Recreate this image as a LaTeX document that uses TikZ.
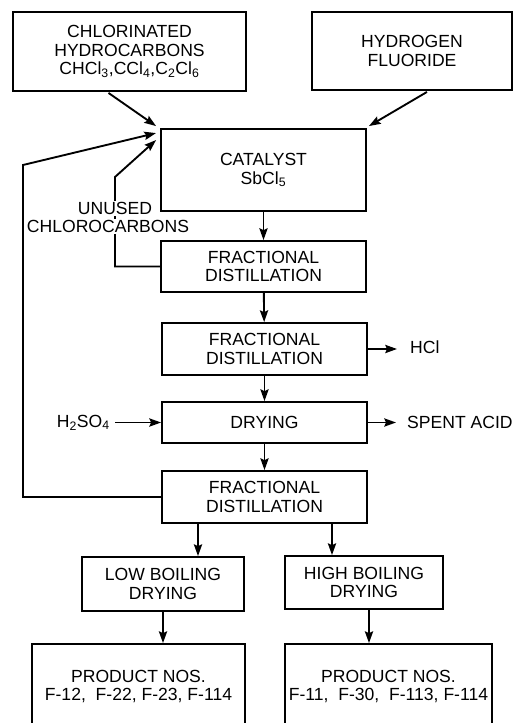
\documentclass[tikz,border=0pt]{standalone}
\usepackage{fontspec}
\setmainfont{Liberation Sans}
\usepackage{tikz}
\usetikzlibrary{arrows.meta, positioning, calc}

\begin{document}
\begin{tikzpicture}[
    x=0.03cm, y=-0.03cm,
    >={Stealth[length=10pt, width=7pt, inset=1.5pt]},
    box/.style={rectangle, draw=black, line width=1.6pt, minimum width=#1, align=center, inner sep=0pt, font=\fontsize{15}{15.8}\selectfont},
    side/.style={inner sep=0pt, font=\fontsize{15}{15.8}\selectfont, align=center},
    flow/.style={->, line width=1.6pt}
]
\useasboundingbox (0,0) rectangle (518,723);

% Feed boxes
\node[box=6.99cm, minimum height=2.37cm] (chl) at (129.5,51.5) {CHLORINATED\\HYDROCARBONS\\CHCl\textsubscript{3},CCl\textsubscript{4},C\textsubscript{2}Cl\textsubscript{6}};
\node[box=6.0cm, minimum height=2.34cm] (hf) at (412,51) {HYDROGEN\\FLUORIDE};

% Main column
\node[box=6.15cm, minimum height=2.46cm] (cat) at (263.5,170) {CATALYST\\SbCl\textsubscript{5}};
\node[box=6.15cm, minimum height=1.53cm] (fd1) at (263.5,266.5) {FRACTIONAL\\DISTILLATION};
\node[box=6.15cm, minimum height=1.56cm] (fd2) at (264.5,349) {FRACTIONAL\\DISTILLATION};
\node[box=6.15cm, minimum height=1.23cm] (dry) at (264.5,422.5) {DRYING};
\node[box=6.15cm, minimum height=1.56cm] (fd3) at (264.5,497) {FRACTIONAL\\DISTILLATION};

% Boiling fractions and products
\node[box=4.86cm, minimum height=1.62cm] (low) at (163,584) {LOW BOILING\\DRYING};
\node[box=4.74cm, minimum height=1.59cm] (high) at (364,582.5) {HIGH BOILING\\DRYING};
\node[box=6.39cm, minimum height=2.55cm] (prodL) at (138.5,686.5) {PRODUCT NOS.\\F-12,\ \ F-22, F-23, F-114};
\node[box=6.21cm, minimum height=2.55cm] (prodR) at (388.5,686.5) {PRODUCT NOS.\\F-11,\ \ F-30,\ \ F-113, F-114};

% Side streams
\node[side, anchor=west] (hcl) at (410,347) {HCl};
\node[side, anchor=west] (spent) at (407,422.5) {SPENT\ ACID};
\node[side, anchor=east] (hso) at (110,422.5) {H\textsubscript{2}SO\textsubscript{4}};

% Feeds into catalyst
\draw[flow] ($(chl.south)+(-21,1)$) -- ($(cat.north west)+(-4,-2)$);
\draw[flow] ($(hf.south)+(15,1)$) -- ($(cat.north east)+(2,-2)$);

% Recycle loops
\draw[flow] (fd3.west) -| (23,165) -- ($(cat.north west)+(-4,5)$);
\draw[flow] (fd1.west) -| (115,177) -- ($(cat.north west)+(-4,12)$);
\node[side, fill=white, inner sep=1pt] (unused) at (115,208.5) {UNUSED};
\node[side, fill=white, inner sep=1pt] (chlorocarbons) at (108,226.5) {CHLOROCARBONS};

% Main flow
\draw[flow] (cat) -- (fd1);
\draw[flow] (fd1) -- (fd2);
\draw[flow] (fd2) -- (dry);
\draw[flow] (dry) -- (fd3);
\draw[flow, shorten >=0.39cm] (fd2.east) -- (hcl.west |- fd2.east);
\draw[flow, shorten >=0.33cm] (dry.east) -- (spent.west);
\draw[flow, shorten <=0.15cm] (hso.east) -- (dry.west);

% Split into fractions
\coordinate (s1) at ($(fd3.south)+(-66.5,0)$);
\coordinate (s2) at ($(fd3.south)+(67.5,0)$);
\coordinate (s3) at ($(high.south)+(5,0)$);
\draw[flow] (s1) -- (s1 |- low.north);
\draw[flow] (s2) -- (s2 |- high.north);
\draw[flow] (low.south) -- (low.south |- prodL.north);
\draw[flow] (s3) -- (s3 |- prodR.north);

\end{tikzpicture}
\end{document}
